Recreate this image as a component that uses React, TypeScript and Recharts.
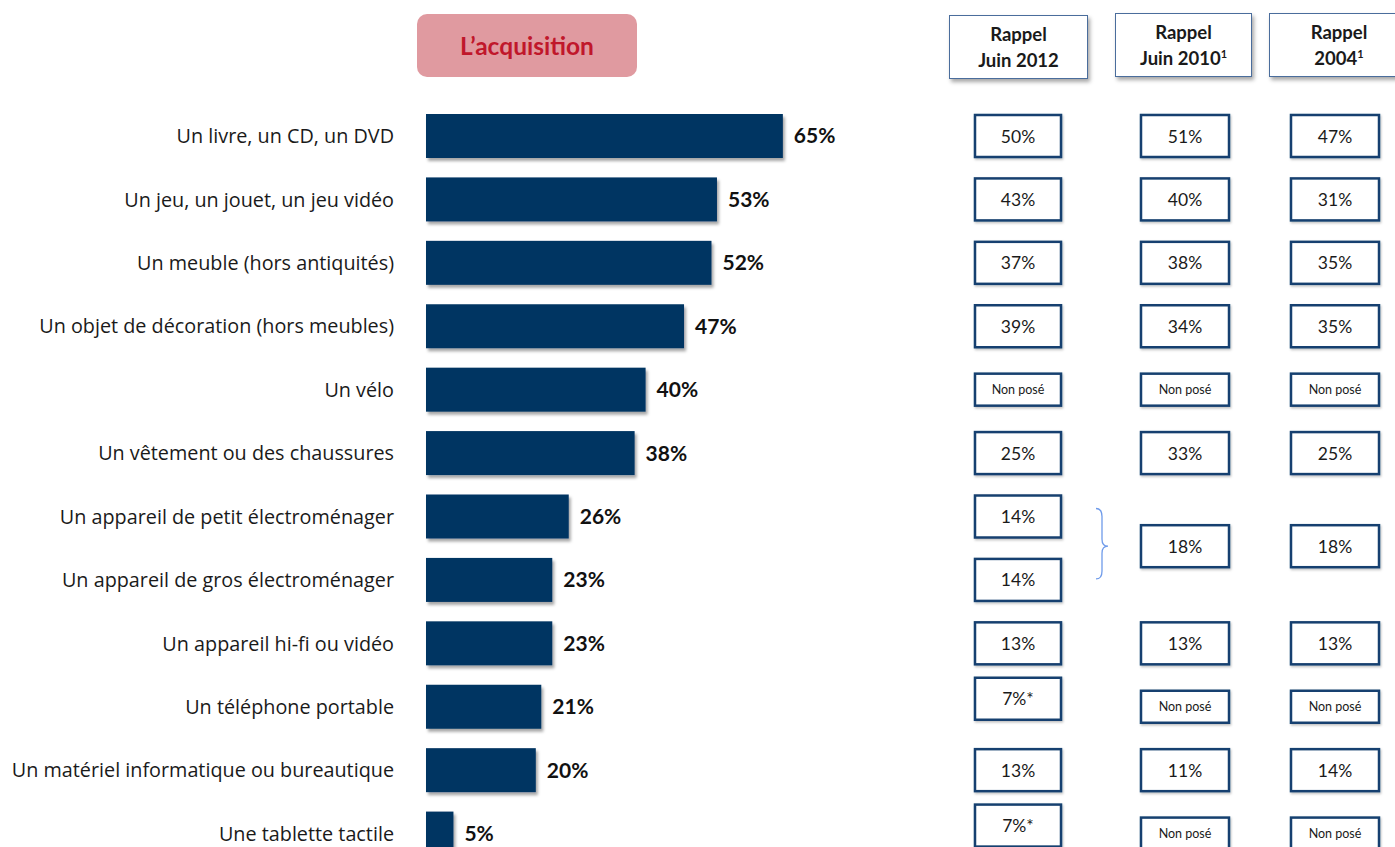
import React from "react";
import { BarChart, Bar, XAxis, YAxis, LabelList } from "recharts";

const categories = [
  "Un livre, un CD, un DVD",
  "Un jeu, un jouet, un jeu vidéo",
  "Un meuble (hors antiquités)",
  "Un objet de décoration (hors meubles)",
  "Un vélo",
  "Un vêtement ou des chaussures",
  "Un appareil de petit électroménager",
  "Un appareil de gros électroménager",
  "Un appareil hi-fi ou vidéo",
  "Un téléphone portable",
  "Un matériel informatique ou bureautique",
  "Une tablette tactile",
];
const acquisition = [65, 53, 52, 47, 40, 38, 26, 23, 23, 21, 20, 5];
const rappelJuin2012 = ["50%", "43%", "37%", "39%", "Non posé", "25%", "14%", "14%", "13%", "7%*", "13%", "7%*"];
const rappelJuin2010 = ["51%", "40%", "38%", "34%", "Non posé", "33%", "18%", null, "13%", "Non posé", "11%", "Non posé"];
const rappel2004 = ["47%", "31%", "35%", "35%", "Non posé", "25%", "18%", null, "13%", "Non posé", "14%", "Non posé"];
const mergedRow = 6; // 2010 and 2004 values cover rows 6 and 7
const columnHeaders = [
  { line1: "Rappel", line2: "Juin 2012", sup: "" },
  { line1: "Rappel", line2: "Juin 2010", sup: "1" },
  { line1: "Rappel", line2: "2004", sup: "1" },
];
const title = "L\u2019acquisition";

const FONT = "Lato, 'Open Sans', sans-serif";
const LABEL_FONT = "'Open Sans', Lato, sans-serif";
const BAR_COLOR = "#003462";
const BOX_BORDER = "#17416F";
const ROW_STEP = 63.4;

const columns = [
  { x: 975, w: 86, values: rappelJuin2012 },
  { x: 1141, w: 88, values: rappelJuin2010 },
  { x: 1291, w: 88, values: rappel2004 },
];

const data = categories.map((name, i) => ({ name, value: acquisition[i] }));

const Cell = ({ x, w, cy, text }: { x: number; w: number; cy: number; text: string }) => {
  const small = text === "Non posé";
  const h = small ? 32 : 42;
  const shift = text.endsWith("*") ? -8 : 0;
  const c = cy + shift;
  return (
    <g>
      <rect
        x={x}
        y={c - h / 2}
        width={w}
        height={h}
        fill="#fff"
        stroke={BOX_BORDER}
        strokeWidth={2.5}
        filter="url(#boxShadow)"
      />
      <text
        x={x + w / 2}
        y={c}
        textAnchor="middle"
        dominantBaseline="central"
        fontSize={small ? 12.5 : 17.5}
        fill="#1a1a1a"
        fontFamily={FONT}
      >
        {text}
      </text>
    </g>
  );
};

const BarWithRow = (props: any) => {
  const { x, y, width, height, index } = props;
  const cy = y + height / 2;
  const cells: React.ReactNode[] = [];
  columns.forEach((col, ci) => {
    const v = col.values[index];
    if (v == null) return;
    let c = cy;
    if (ci > 0 && index === mergedRow) c = cy + ROW_STEP / 2 - 2;
    cells.push(<Cell key={ci} x={col.x} w={col.w} cy={c} text={v} />);
  });
  let brace: React.ReactNode = null;
  if (index === mergedRow) {
    const top = cy - 8;
    const mid = cy + ROW_STEP / 2 - 2;
    const bot = cy + ROW_STEP - 1;
    brace = (
      <path
        d={`M1096 ${top} Q1102 ${top} 1102 ${top + 8} L1102 ${mid - 7} Q1102 ${mid} 1108 ${mid} Q1102 ${mid} 1102 ${mid + 7} L1102 ${bot - 8} Q1102 ${bot} 1096 ${bot}`}
        fill="none"
        stroke="#6F9BEA"
        strokeWidth={1.3}
      />
    );
  }
  return (
    <g>
      <rect x={x} y={y} width={width} height={height} fill={BAR_COLOR} filter="url(#barShadow)" />
      {cells}
      {brace}
    </g>
  );
};

const CategoryTick = (props: any) => {
  const { y, payload } = props;
  return (
    <text x={394} y={y} textAnchor="end" dominantBaseline="central" fontSize={19.8} fill="#1a1a1a" fontFamily={LABEL_FONT}>
      {payload.value}
    </text>
  );
};

const headerPos = [
  { left: 949, top: 15, width: 139, height: 64 },
  { left: 1115, top: 13, width: 137, height: 64 },
  { left: 1269, top: 13, width: 140, height: 64 },
];

export default function App() {
  return (
    <div
      style={{
        position: "absolute",
        left: 0,
        top: 0,
        width: 1395,
        height: 847,
        overflow: "hidden",
        background: "#fff",
        fontFamily: FONT,
      }}
    >
      <svg width={0} height={0} style={{ position: "absolute" }}>
        <defs>
          <filter id="barShadow" x="-10%" y="-10%" width="130%" height="140%">
            <feDropShadow dx={2} dy={3} stdDeviation={1.5} floodColor="#000" floodOpacity={0.35} />
          </filter>
          <filter id="boxShadow" x="-10%" y="-10%" width="130%" height="140%">
            <feDropShadow dx={1} dy={1.5} stdDeviation={1} floodColor="#000" floodOpacity={0.25} />
          </filter>
        </defs>
      </svg>

      <div
        style={{
          position: "absolute",
          left: 417,
          top: 14,
          width: 220,
          height: 63,
          borderRadius: 10,
          background: "#E09AA0",
          color: "#C0172B",
          fontWeight: 700,
          fontSize: 24.5,
          display: "flex",
          alignItems: "center",
          justifyContent: "center",
        }}
      >
        {title}
      </div>

      {columnHeaders.map((h, i) => (
        <div
          key={i}
          style={{
            position: "absolute",
            left: headerPos[i].left,
            top: headerPos[i].top,
            width: headerPos[i].width,
            height: headerPos[i].height,
            boxSizing: "border-box",
            border: "1.5px solid #4A6D9C",
            background: "#fff",
            boxShadow: "2px 3px 4px rgba(0,0,0,0.35)",
            display: "flex",
            flexDirection: "column",
            alignItems: "center",
            justifyContent: "center",
            fontWeight: 700,
            fontSize: 18.5,
            lineHeight: "26px",
            color: "#1a1a1a",
          }}
        >
          <div>{h.line1}</div>
          <div>
            {h.line2}
            {h.sup && <sup style={{ fontSize: 11, lineHeight: 0 }}>{h.sup}</sup>}
          </div>
        </div>
      ))}

      <div style={{ position: "absolute", left: 0, top: 0 }}>
        <BarChart
          width={1395}
          height={880}
          data={data}
          layout="vertical"
          margin={{ top: 104, right: 420, bottom: 15, left: 0 }}
        >
          <XAxis type="number" domain={[0, 100]} hide />
          <YAxis
            type="category"
            dataKey="name"
            width={426}
            axisLine={false}
            tickLine={false}
            tick={<CategoryTick />}
            interval={0}
          />
          <Bar dataKey="value" barSize={44} isAnimationActive={false} shape={<BarWithRow />}>
            <LabelList
              dataKey="value"
              position="right"
              offset={11}
              formatter={(v: any) => `${v}%`}
              style={{ fontWeight: 700, fontSize: 21, fill: "#111", fontFamily: FONT }}
            />
          </Bar>
        </BarChart>
      </div>
    </div>
  );
}
